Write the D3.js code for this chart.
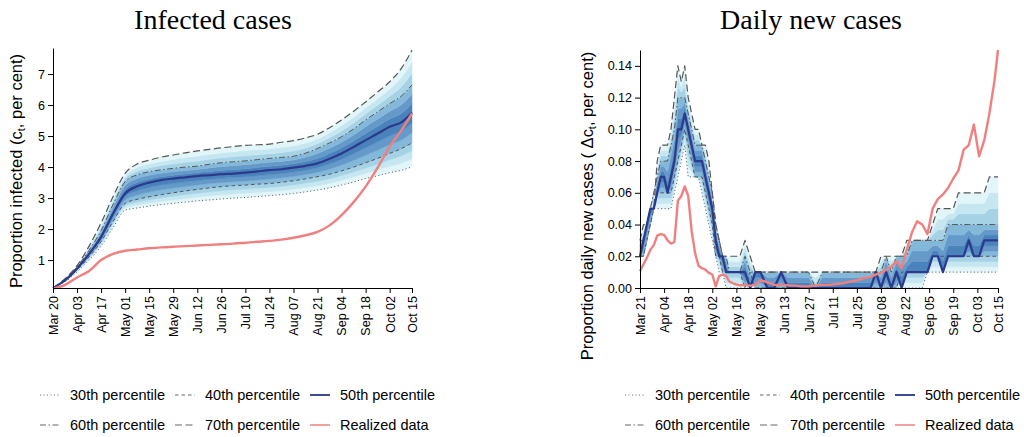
<!DOCTYPE html>
<html>
<head>
<meta charset="utf-8">
<script src="https://cdn.jsdelivr.net/npm/d3@7"></script>
<style>
  body { margin: 0; background: #fff; }
  svg { font-family: "Liberation Sans", Arial, sans-serif; }
</style>
</head>
<body>
<div id="chart"></div>
<script>
// ---- left panel: proportion infected (per cent), weekly readings ----
const infDates = ["2020-03-20", "2020-03-27", "2020-04-03", "2020-04-10", "2020-04-17", "2020-04-24",
  "2020-05-01", "2020-05-08", "2020-05-15", "2020-05-22", "2020-05-29", "2020-06-05", "2020-06-12",
  "2020-06-19", "2020-06-26", "2020-07-03", "2020-07-10", "2020-07-17", "2020-07-24", "2020-07-31",
  "2020-08-07", "2020-08-14", "2020-08-21", "2020-08-28", "2020-09-04", "2020-09-11", "2020-09-18",
  "2020-09-25", "2020-10-02", "2020-10-09", "2020-10-15"];
const infP30 = [0.1, 0.3, 0.62, 1.0, 1.45, 2.05, 2.61, 2.68, 2.74, 2.79, 2.83, 2.87, 2.91, 2.94, 2.97, 3.0,
  3.02, 3.05, 3.08, 3.11, 3.15, 3.2, 3.26, 3.33, 3.42, 3.52, 3.63, 3.72, 3.82, 3.9, 4.01];
const infP40 = [0.1, 0.33, 0.68, 1.1, 1.6, 2.25, 2.83, 2.96, 3.04, 3.11, 3.17, 3.23, 3.28, 3.33, 3.37, 3.4,
  3.42, 3.45, 3.47, 3.51, 3.56, 3.62, 3.69, 3.77, 3.88, 4.0, 4.14, 4.28, 4.44, 4.6, 4.78];
const infP50 = [0.1, 0.35, 0.73, 1.2, 1.75, 2.5, 3.15, 3.38, 3.5, 3.58, 3.63, 3.67, 3.71, 3.74, 3.77, 3.79,
  3.82, 3.86, 3.9, 3.93, 3.98, 4.04, 4.12, 4.27, 4.44, 4.65, 4.87, 5.08, 5.3, 5.45, 5.75];
const infP60 = [0.1, 0.37, 0.78, 1.32, 1.95, 2.8, 3.53, 3.75, 3.85, 3.91, 3.96, 4.0, 4.03, 4.09, 4.14, 4.17,
  4.2, 4.24, 4.28, 4.31, 4.35, 4.45, 4.6, 4.78, 4.98, 5.23, 5.52, 5.78, 6.05, 6.3, 6.65];
const infP70 = [0.1, 0.4, 0.82, 1.45, 2.2, 3.05, 3.8, 4.1, 4.22, 4.32, 4.39, 4.46, 4.52, 4.57, 4.62, 4.66,
  4.7, 4.72, 4.74, 4.8, 4.85, 4.94, 5.06, 5.27, 5.52, 5.8, 6.1, 6.42, 6.75, 7.2, 7.77];
const infReal = [0.08, 0.2, 0.44, 0.65, 1.0, 1.2, 1.3, 1.34, 1.38, 1.41, 1.43, 1.45, 1.47, 1.49, 1.51, 1.53,
  1.56, 1.59, 1.62, 1.66, 1.72, 1.8, 1.91, 2.12, 2.45, 2.87, 3.37, 3.98, 4.66, 5.2, 5.73];
const infTicks = ["2020-03-20", "2020-04-03", "2020-04-17", "2020-05-01", "2020-05-15", "2020-05-29",
  "2020-06-12", "2020-06-26", "2020-07-10", "2020-07-24", "2020-08-07", "2020-08-21", "2020-09-04",
  "2020-09-18", "2020-10-02", "2020-10-15"];
const infYTicks = [1, 2, 3, 4, 5, 6, 7];

// ---- right panel: daily new cases (per cent), days counted from Mar 21 ----
const newStart = "2020-03-21";
const newDays = [0, 2, 4, 6, 8, 10, 12, 14, 16, 18, 20, 22, 24, 26, 28, 30, 32, 34, 36, 38, 40, 42, 44, 46, 48, 50, 52,
  55, 58, 61, 64, 67, 70,
  74, 78, 82, 86, 90, 94, 98, 102, 106, 110, 114, 118, 122, 126, 130, 134,
  137, 140, 143, 146, 149, 152, 155, 158, 161, 164, 167, 170, 173, 176, 179, 182, 185, 188, 191, 194, 197, 200, 203, 206, 208];
const newP30 = [0.02, 0.02, 0.03, 0.04, 0.05, 0.05, 0.05, 0.05, 0.05, 0.05, 0.06, 0.07, 0.08, 0.09, 0.07, 0.07, 0.07, 0.07, 0.06, 0.05, 0.04, 0.03, 0.02, 0.01, 0.01, 0, 0,
  0, 0, 0, 0, 0, 0,
  0, 0, 0, 0, 0, 0, 0, 0, 0, 0, 0, 0, 0, 0, 0, 0,
  0, 0, 0, 0, 0, 0, 0, 0, 0, 0, 0.01, 0.01, 0.01, 0.01, 0.01, 0.01, 0.01, 0.01, 0.01, 0.01, 0.01, 0.01, 0.01, 0.01, 0.01];
const newP40 = [0.02, 0.02, 0.03, 0.04, 0.05, 0.06, 0.06, 0.06, 0.06, 0.06, 0.07, 0.08, 0.09, 0.10, 0.09, 0.08, 0.07, 0.07, 0.07, 0.06, 0.05, 0.04, 0.02, 0.02, 0.01, 0.01, 0.01,
  0.01, 0.01, 0, 0.01, 0, 0,
  0, 0, 0, 0, 0, 0, 0, 0, 0, 0, 0, 0, 0, 0, 0, 0,
  0, 0, 0, 0, 0, 0.01, 0.01, 0.01, 0.01, 0.01, 0.01, 0.02, 0.02, 0.02, 0.02, 0.02, 0.02, 0.02, 0.02, 0.02, 0.02, 0.02, 0.02, 0.02, 0.02];
const newP50 = [0.02, 0.03, 0.04, 0.05, 0.05, 0.06, 0.07, 0.07, 0.06, 0.07, 0.08, 0.10, 0.10, 0.11, 0.10, 0.09, 0.08, 0.08, 0.08, 0.07, 0.06, 0.05, 0.03, 0.02, 0.02, 0.01, 0.01,
  0.01, 0.01, 0.01, 0, 0.01, 0.01,
  0, 0, 0.01, 0, 0, 0, 0, 0, 0, 0, 0, 0, 0, 0, 0, 0,
  0.01, 0, 0.01, 0, 0.01, 0, 0.01, 0.01, 0.01, 0.01, 0.01, 0.02, 0.02, 0.01, 0.02, 0.02, 0.02, 0.02, 0.03, 0.02, 0.02, 0.03, 0.03, 0.03, 0.03];
const newP60 = [0.03, 0.03, 0.04, 0.05, 0.06, 0.07, 0.08, 0.08, 0.08, 0.09, 0.10, 0.12, 0.12, 0.12, 0.11, 0.10, 0.09, 0.09, 0.09, 0.08, 0.07, 0.06, 0.04, 0.03, 0.02, 0.02, 0.01,
  0.01, 0.01, 0.02, 0.01, 0.01, 0.01,
  0.01, 0.01, 0.01, 0.01, 0.01, 0.01, 0.01, 0, 0.01, 0.01, 0.01, 0.01, 0.01, 0.01, 0.01, 0.01,
  0.01, 0.01, 0.02, 0.01, 0.02, 0.02, 0.02, 0.03, 0.03, 0.03, 0.03, 0.03, 0.03, 0.03, 0.04, 0.04, 0.04, 0.04, 0.04, 0.04, 0.04, 0.04, 0.04, 0.04, 0.04];
const newP70 = [0.03, 0.04, 0.04, 0.05, 0.05, 0.08, 0.09, 0.09, 0.09, 0.10, 0.12, 0.14, 0.13, 0.14, 0.12, 0.11, 0.10, 0.10, 0.09, 0.09, 0.08, 0.06, 0.04, 0.03, 0.02, 0.02, 0.02,
  0.02, 0.02, 0.03, 0.02, 0.01, 0.01,
  0.01, 0.01, 0.01, 0.01, 0.01, 0.01, 0.01, 0.01, 0.01, 0.01, 0.01, 0.01, 0.01, 0.01, 0.01, 0.01,
  0.01, 0.02, 0.02, 0.02, 0.02, 0.02, 0.03, 0.03, 0.03, 0.03, 0.03, 0.04, 0.05, 0.05, 0.05, 0.05, 0.06, 0.06, 0.06, 0.06, 0.06, 0.06, 0.07, 0.07, 0.07];
const newReal = [0.0105, 0.015, 0.019, 0.024, 0.027, 0.033, 0.034, 0.0335, 0.030, 0.028, 0.029, 0.055, 0.058, 0.064, 0.058, 0.036, 0.022, 0.014, 0.0125, 0.0115, 0.0095, 0.0085, 0.001, 0.0075, 0.0085, 0.0075, 0.004,
  0.0025, 0.0017, 0.002, 0.0015, 0.002, 0.005,
  0.0035, 0.002, 0.002, 0.0017, 0.0015, 0.001, 0.001, 0.0015, 0.002, 0.002, 0.0025, 0.003, 0.004, 0.0048, 0.0063, 0.007,
  0.0084, 0.0095, 0.0115, 0.0136, 0.0168, 0.0126, 0.024, 0.035, 0.042, 0.04, 0.034, 0.05, 0.056, 0.059, 0.063, 0.069, 0.074, 0.087, 0.09, 0.103, 0.083, 0.093, 0.110, 0.131, 0.150];
const newTicks = ["2020-03-21", "2020-04-04", "2020-04-18", "2020-05-02", "2020-05-16", "2020-05-30",
  "2020-06-13", "2020-06-27", "2020-07-11", "2020-07-25", "2020-08-08", "2020-08-22", "2020-09-05",
  "2020-09-19", "2020-10-03", "2020-10-15"];
const newYTicks = [0, 0.02, 0.04, 0.06, 0.08, 0.10, 0.12, 0.14];

const legendLabels = ["30th percentile", "40th percentile", "50th percentile",
  "60th percentile", "70th percentile", "Realized data"];

// fan shades, outermost first
const fanColors = ["#e2f5f9", "#c6e7f1", "#a6d2e6", "#84b8da", "#6499c9", "#4a82bb"];
const lineStyles = [
  { stroke: "#555", width: 1, dash: "1,2.5" },
  { stroke: "#555", width: 1, dash: "3.5,3" },
  { stroke: "#2b3a8c", width: 2.2, dash: null },
  { stroke: "#555", width: 1, dash: "6,2.5,1.5,2.5" },
  { stroke: "#555", width: 1.2, dash: "7,3.5" },
  { stroke: "#f08080", width: 2.4, dash: null }
];

const parse = d3.timeParse("%Y-%m-%d");
const fmt = d3.timeFormat("%b %d");
const svg = d3.select("#chart").append("svg").attr("width", 1024).attr("height", 437);

function drawPanel(cfg) {
  const x = d3.scaleTime().domain(d3.extent(cfg.dates)).range([cfg.left, cfg.right]);
  const y = d3.scaleLinear().domain(cfg.yDomain).range([288, cfg.top]);
  const g = svg.append("g");
  const qs = cfg.quantiles;
  const sub = 3;

  // fan between 30th and 70th percentile
  for (let i = 0; i < 4; i++) {
    for (let j = 0; j < sub; j++) {
      const lo = j / sub, hi = (j + 1) / sub;
      const ci = i < 2 ? i * sub + j : (3 - i) * sub + (sub - 1 - j);
      const area = d3.area().curve(cfg.curve)
        .x((d, k) => x(cfg.dates[k]))
        .y0((d, k) => y(qs[i][k] + (qs[i + 1][k] - qs[i][k]) * lo))
        .y1((d, k) => y(qs[i][k] + (qs[i + 1][k] - qs[i][k]) * hi));
      g.append("path").datum(cfg.dates).attr("d", area)
        .attr("fill", fanColors[ci]).attr("stroke", fanColors[ci]).attr("stroke-width", 0.5);
    }
  }

  // percentile lines, then realized data on top
  const order = [0, 1, 3, 4, 2, 5];
  order.forEach(si => {
    const vals = si < 5 ? qs[si] : cfg.real;
    const st = lineStyles[si];
    const line = d3.line().curve(cfg.curve)
      .x((d, k) => x(cfg.dates[k])).y(d => y(d));
    g.append("path").datum(vals).attr("d", line)
      .attr("fill", "none").attr("stroke", st.stroke).attr("stroke-width", st.width)
      .attr("stroke-dasharray", st.dash).attr("stroke-linejoin", "round");
  });

  const xAxis = g.append("g").attr("transform", "translate(0,288)")
    .call(d3.axisBottom(x).tickValues(cfg.ticks).tickFormat(fmt).tickSize(5).tickSizeOuter(0));
  xAxis.selectAll("text")
    .attr("transform", "rotate(-90)").attr("text-anchor", "end")
    .attr("x", -8).attr("y", 0).attr("dy", "0.35em");

  const yAxis = g.append("g").attr("transform", `translate(${cfg.left},0)`)
    .call(d3.axisLeft(y).tickValues(cfg.yTicks).tickFormat(cfg.yFormat).tickSize(5).tickSizeOuter(0));

  [xAxis, yAxis].forEach(a => {
    a.attr("font-size", 12.5).attr("font-family", "Liberation Sans, Arial, sans-serif");
    a.selectAll("text").attr("fill", "#000");
    a.selectAll("path, line").attr("stroke", "#000");
  });

  svg.append("text").attr("x", cfg.titleX).attr("y", 29).attr("text-anchor", "middle")
    .style("font-family", "Liberation Serif, serif").style("font-size", "28px").text(cfg.title);

  const yl = svg.append("text")
    .attr("transform", `translate(${cfg.labelX},${cfg.labelY}) rotate(-90)`)
    .attr("text-anchor", "middle").style("font-size", "16.5px");
  yl.append("tspan").text(cfg.ylabel[0]);
  yl.append("tspan").attr("dy", 3).style("font-size", "11px").text("t");
  yl.append("tspan").attr("dy", -3).text(cfg.ylabel[1]);

  // legend, two rows of three
  legendLabels.forEach((lab, i) => {
    const col = i % 3, row = Math.floor(i / 3);
    const lx = cfg.legendX + col * 135, ly = 395 + row * 30;
    const st = lineStyles[i];
    svg.append("line").attr("x1", lx).attr("x2", lx + 20).attr("y1", ly).attr("y2", ly)
      .attr("stroke", i === 5 ? "#f4a0a0" : (i === 2 ? "#3b4a94" : "#666"))
      .attr("stroke-width", i === 2 || i === 5 ? 2 : 1).attr("stroke-dasharray", st.dash);
    svg.append("text").attr("x", lx + 30).attr("y", ly).attr("dy", "0.35em")
      .style("font-size", "14.5px").text(lab);
  });
}

drawPanel({
  dates: infDates.map(parse),
  quantiles: [infP30, infP40, infP50, infP60, infP70],
  real: infReal,
  ticks: infTicks.map(parse),
  yTicks: infYTicks,
  yFormat: d3.format("d"),
  yDomain: [0.1, 7.84],
  left: 53, right: 412, top: 48,
  curve: d3.curveMonotoneX,
  title: "Infected cases", titleX: 213,
  ylabel: ["Proportion infected (c", ", per cent)"], labelX: 22, labelY: 171,
  legendX: 40
});

const start = parse(newStart);
drawPanel({
  dates: newDays.map(d => d3.timeDay.offset(start, d)),
  quantiles: [newP30, newP40, newP50, newP60, newP70],
  real: newReal,
  ticks: newTicks.map(parse),
  yTicks: newYTicks,
  yFormat: d3.format(".2f"),
  yDomain: [0, 0.15],
  left: 640, right: 998, top: 50,
  curve: d3.curveLinear,
  title: "Daily new cases", titleX: 811,
  ylabel: ["Proportion daily new cases ( \u0394c", ", per cent)"], labelX: 593, labelY: 206,
  legendX: 625
});
</script>
</body>
</html>
